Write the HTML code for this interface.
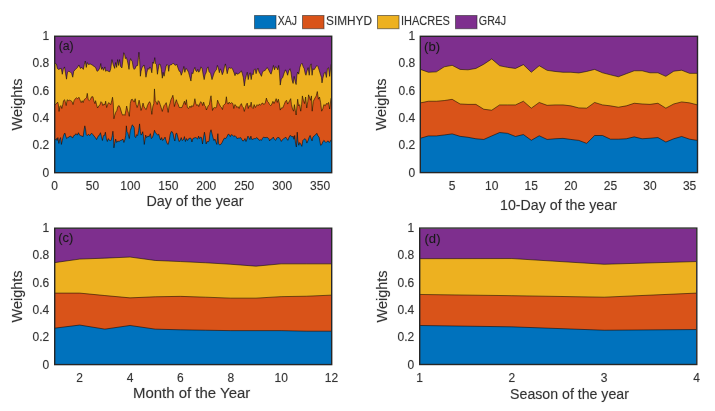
<!DOCTYPE html>
<html><head><meta charset="utf-8"><style>
html,body{margin:0;padding:0;background:#fff;width:715px;height:411px;overflow:hidden}
svg{display:block;will-change:transform}
text{stroke:#333;stroke-width:0.7px;stroke-opacity:0.2}
</style></head><body>
<svg width="715" height="411" viewBox="0 0 715 411" font-family='"Liberation Sans", sans-serif' fill="#333">
<rect width="715" height="411" fill="#fff"/>
<rect x="254.5" y="15.5" width="21.5" height="13.2" fill="#0072BD" stroke="#222" stroke-opacity="0.55" stroke-width="1"/>
<text x="277.8" y="25.1" font-size="12" textLength="19.2" lengthAdjust="spacingAndGlyphs">XAJ</text>
<rect x="302.5" y="15.5" width="21.5" height="13.2" fill="#D95319" stroke="#222" stroke-opacity="0.55" stroke-width="1"/>
<text x="326" y="25.1" font-size="12" textLength="46" lengthAdjust="spacingAndGlyphs">SIMHYD</text>
<rect x="377.5" y="15.5" width="21.5" height="13.2" fill="#EDB120" stroke="#222" stroke-opacity="0.55" stroke-width="1"/>
<text x="401" y="25.1" font-size="12" textLength="48.8" lengthAdjust="spacingAndGlyphs">IHACRES</text>
<rect x="455.5" y="15.5" width="21.5" height="13.2" fill="#7E2F8E" stroke="#222" stroke-opacity="0.55" stroke-width="1"/>
<text x="478.8" y="25.1" font-size="12" textLength="27.4" lengthAdjust="spacingAndGlyphs">GR4J</text>
<clipPath id="clipa"><rect x="54.5" y="36.5" width="277.0" height="136.0"/></clipPath>
<g clip-path="url(#clipa)">
<rect x="54.5" y="36.5" width="277.0" height="136.0" fill="#7E2F8E"/>
<polygon points="54.50,172.50 54.50,63.51 55.43,63.51 56.41,64.00 57.39,68.40 58.37,69.38 59.84,68.89 61.30,68.40 62.28,74.28 63.26,69.38 64.54,66.93 65.52,73.30 66.50,79.18 67.48,72.32 68.65,71.34 70.12,71.83 71.59,73.30 72.76,77.22 73.74,71.34 75.51,69.38 77.47,67.42 78.93,64.98 80.40,68.40 81.87,67.42 83.34,69.38 84.32,64.49 85.30,61.06 86.28,67.42 87.26,62.53 88.43,64.49 90.20,64.00 92.16,64.98 94.12,66.44 95.58,67.42 97.05,71.34 98.52,70.36 99.99,67.42 100.78,63.51 101.46,69.38 102.44,67.42 103.42,70.36 104.89,66.93 105.67,71.34 106.85,70.36 108.32,71.34 109.79,71.83 110.77,68.40 111.94,59.59 113.21,64.49 114.68,68.40 115.66,62.53 116.64,67.42 117.62,59.59 118.60,65.47 119.58,59.59 120.56,66.44 121.96,67.91 122.94,59.59 123.72,52.73 124.70,54.69 125.39,58.61 126.37,57.63 127.35,60.57 128.33,65.47 129.01,69.38 129.79,61.55 130.58,58.61 131.56,60.57 132.24,61.55 133.22,67.42 134.20,69.38 135.18,68.40 136.16,65.95 137.63,65.47 138.41,57.63 138.90,52.24 139.59,59.59 140.37,76.24 141.06,71.34 142.04,67.42 143.02,66.44 144.00,64.98 144.98,69.38 145.95,77.22 146.93,72.32 147.91,68.40 148.89,69.38 149.87,66.93 150.85,68.40 151.83,72.81 152.81,62.04 153.79,63.51 154.77,57.63 155.46,63.51 156.43,64.49 157.41,74.28 158.20,69.38 159.18,64.00 160.35,64.49 161.33,69.38 162.31,78.20 163.10,72.32 164.07,76.24 165.05,71.34 166.03,66.44 167.01,64.49 167.99,65.47 168.68,71.34 169.46,65.47 170.44,64.98 171.91,64.49 173.38,63.02 174.36,64.49 175.34,65.47 176.61,64.00 177.79,67.42 179.26,71.34 180.24,71.34 181.21,75.26 182.68,71.34 183.86,66.44 184.84,72.32 185.82,68.40 187.09,69.38 188.56,72.32 189.47,75.67 190.94,81.06 191.92,72.73 192.90,73.71 193.88,69.79 194.86,67.35 195.84,70.77 196.81,71.75 197.79,69.30 198.77,72.24 199.75,70.77 200.93,66.86 202.20,68.81 203.18,74.69 204.16,79.59 205.14,74.69 206.12,72.73 207.10,68.33 208.08,66.86 209.06,71.75 210.53,73.22 212.00,79.59 213.27,75.67 214.25,72.73 215.42,70.77 216.40,69.79 217.38,65.39 218.36,67.84 219.34,72.73 220.32,68.81 221.30,70.77 222.28,74.69 223.46,71.75 224.43,66.86 225.41,63.92 226.39,68.81 227.18,73.71 228.16,69.79 229.14,67.35 230.31,68.33 231.58,67.84 232.86,69.79 234.03,72.73 235.01,75.67 235.99,72.73 236.97,74.20 238.44,73.71 239.91,72.73 241.38,70.77 242.36,73.71 243.34,77.63 244.32,85.95 245.30,79.59 246.28,75.67 247.26,72.24 248.24,79.59 249.21,74.69 250.19,72.73 251.17,79.59 252.15,73.71 253.13,74.69 254.11,69.79 255.09,68.81 256.07,73.71 257.09,69.82 257.96,68.18 259.05,72.00 260.36,74.18 261.45,76.36 262.55,72.00 263.64,70.91 265.27,70.36 266.91,67.64 268.22,68.73 269.64,72.00 271.05,74.18 272.36,69.82 273.45,65.45 274.54,69.82 275.64,66.55 276.73,67.64 277.82,69.82 278.69,65.45 279.45,73.09 280.22,85.09 281.31,79.09 282.73,77.45 284.14,73.09 285.45,69.82 286.54,72.00 287.64,75.27 288.73,70.91 290.04,68.73 290.91,72.00 292.00,79.64 293.09,83.45 294.18,76.36 295.27,81.82 296.14,84.54 296.91,75.27 297.67,72.00 298.76,74.18 299.85,67.64 300.94,64.36 302.03,63.27 303.13,66.55 304.22,68.73 305.09,73.09 305.96,75.27 307.05,70.91 308.14,67.64 309.23,75.27 310.33,65.45 311.20,63.82 312.07,75.27 312.94,68.73 314.03,69.82 315.45,67.64 316.87,65.45 317.96,66.55 319.05,69.82 320.36,74.18 321.45,77.45 322.00,82.91 322.76,78.54 324.18,73.09 325.27,72.00 326.36,77.45 327.45,68.73 328.54,67.64 329.63,76.36 331.05,64.36 331.50,64.36 331.50,172.50" fill="#EDB120"/>
<polygon points="54.50,172.50 54.50,104.59 55.43,104.59 56.41,103.61 57.68,102.14 58.37,104.59 59.05,111.44 59.84,106.55 60.81,105.57 61.79,108.51 62.77,104.59 63.56,100.67 64.54,99.69 65.22,101.65 66.20,105.57 67.18,99.69 68.16,100.67 69.43,100.18 70.81,100.67 72.08,101.65 73.06,104.59 74.04,100.67 75.31,98.71 76.49,97.73 77.66,98.71 78.93,97.24 79.91,99.69 81.19,102.63 82.17,100.67 83.15,102.63 84.13,99.69 85.30,98.71 86.48,97.73 87.26,93.33 88.24,99.69 89.22,100.67 90.20,99.69 91.67,96.75 92.94,96.75 93.92,101.16 94.90,103.61 95.58,100.67 96.56,104.59 97.54,108.02 98.82,106.06 99.99,104.59 100.97,101.65 101.95,102.63 102.93,105.57 103.91,104.10 104.89,104.59 105.67,101.16 106.65,107.53 107.63,104.59 108.61,102.63 109.79,103.61 110.77,104.59 111.75,100.67 112.53,97.24 113.21,102.63 113.90,118.79 114.68,115.36 115.66,112.42 116.84,110.47 117.82,106.55 119.09,105.57 120.07,107.53 121.96,113.89 122.94,115.36 123.92,114.38 124.90,115.36 125.88,110.47 126.66,106.06 127.64,110.47 128.62,113.40 129.30,116.34 130.28,103.61 131.26,99.69 132.24,99.20 133.22,100.67 134.20,102.14 135.18,98.71 136.16,104.59 137.14,107.53 138.12,104.59 139.10,100.18 140.08,104.59 141.06,110.47 142.04,107.53 143.02,103.12 144.00,106.55 144.98,108.51 146.25,109.49 147.42,105.57 148.60,103.12 149.58,101.65 150.56,103.61 151.34,110.47 151.83,114.38 152.81,106.55 153.79,103.61 154.48,88.92 155.26,100.67 156.24,102.14 157.22,104.59 158.20,100.67 159.18,101.65 160.16,104.59 161.14,107.53 162.31,111.44 163.10,108.51 164.07,105.57 165.05,104.59 166.23,102.63 167.21,107.53 168.19,112.42 168.97,106.55 169.95,103.61 170.93,99.69 171.91,97.73 172.89,95.28 173.67,99.69 174.36,106.55 175.34,103.12 176.32,99.69 177.30,102.63 178.28,104.59 179.26,107.53 180.53,107.53 181.90,107.53 183.17,104.59 184.45,101.16 185.43,104.59 186.41,99.69 187.38,107.53 188.56,108.51 189.96,106.06 190.94,107.53 191.92,105.57 192.90,106.55 193.88,104.10 194.86,98.71 195.84,103.61 196.81,105.57 197.79,104.59 198.77,106.55 199.75,103.61 200.73,101.65 201.71,102.63 202.69,105.57 203.67,102.14 204.65,105.57 205.63,106.55 206.41,109.98 207.39,107.53 208.37,105.57 209.35,104.59 210.33,98.71 211.02,95.77 211.70,102.63 212.49,110.47 213.47,108.02 214.44,107.53 215.62,108.02 216.60,106.55 217.58,100.18 218.56,102.63 219.54,104.59 220.52,106.55 221.50,107.53 222.48,109.49 223.26,105.57 224.24,104.59 225.41,103.61 226.39,96.75 227.18,102.63 228.16,104.10 229.14,102.14 230.31,103.61 231.58,102.63 232.86,103.61 233.84,108.51 234.82,104.59 235.99,105.57 236.97,107.53 237.95,106.55 239.13,108.51 240.11,105.57 241.38,103.61 242.36,106.55 243.34,107.53 244.32,111.44 245.30,107.53 246.28,104.59 247.26,103.12 248.24,108.51 249.21,105.57 250.19,106.55 251.17,102.14 252.15,107.53 253.13,108.51 254.11,104.59 255.38,107.53 256.56,105.57 257.09,104.64 258.18,105.73 259.27,104.09 260.58,105.18 261.67,103.54 262.76,103.00 263.85,104.64 265.27,103.00 266.36,98.09 267.45,101.36 268.54,102.45 269.64,104.64 270.73,105.73 271.82,104.09 272.91,101.36 274.00,103.54 275.09,101.36 276.18,98.64 277.27,102.45 278.36,99.18 279.45,104.09 280.22,110.09 281.31,107.91 282.73,107.91 284.14,104.64 285.45,101.36 286.54,100.27 287.64,104.09 288.73,102.45 289.82,100.27 290.69,98.64 291.45,104.64 292.54,109.00 293.63,111.18 294.40,104.64 295.27,110.09 296.14,115.00 296.91,106.82 297.67,99.18 298.54,105.73 299.63,104.64 300.73,111.18 301.60,104.64 302.36,95.91 303.45,100.27 304.54,103.54 305.63,97.00 306.73,107.91 307.82,101.36 308.58,94.82 309.45,97.00 310.54,100.27 311.42,95.91 312.18,111.18 313.27,101.36 314.91,98.09 316.22,95.91 317.31,91.55 318.40,99.18 319.49,97.00 320.58,102.45 321.67,111.18 322.76,109.00 323.85,104.64 325.27,105.73 326.36,103.54 327.45,104.09 328.54,102.45 329.63,109.00 331.05,98.09 331.50,98.09 331.50,172.50" fill="#D95319"/>
<polygon points="54.50,172.50 54.50,139.55 55.43,139.55 56.41,138.57 57.09,140.53 57.88,137.59 58.86,143.47 59.64,139.55 60.62,137.59 61.40,144.44 62.28,140.53 63.26,136.61 64.24,133.67 65.03,133.18 65.71,136.12 66.69,138.57 67.67,137.59 68.85,137.10 70.12,136.12 71.39,136.61 72.57,138.08 73.74,135.63 75.02,135.14 76.00,133.67 77.27,135.14 78.44,132.69 79.62,135.14 80.60,135.63 81.87,136.12 83.15,136.61 84.13,129.75 84.81,125.84 85.50,128.77 86.28,134.65 87.26,135.63 88.43,134.16 89.71,135.63 90.69,134.16 91.67,133.18 92.94,134.65 94.12,136.12 95.29,137.59 96.56,139.55 97.54,137.59 98.52,135.63 99.50,135.14 100.48,132.69 101.46,136.61 102.44,140.53 103.42,135.63 104.40,135.63 105.38,132.20 106.36,138.57 107.34,141.51 108.32,138.57 109.30,140.04 110.28,141.02 111.26,140.04 112.24,135.63 112.92,131.22 113.51,137.59 113.90,147.87 114.68,143.47 115.66,139.06 116.64,142.49 117.82,141.02 119.09,141.51 120.36,140.53 121.96,140.04 122.94,139.06 123.92,142.49 124.90,139.55 125.68,135.63 126.37,125.84 127.05,131.71 127.84,132.69 128.62,136.12 129.30,138.57 130.28,130.73 131.26,127.79 132.24,124.86 133.22,125.84 134.20,127.79 134.89,136.61 135.67,137.59 136.65,134.65 137.63,135.63 138.61,130.73 139.59,123.88 140.37,131.71 141.06,135.14 142.04,133.67 142.72,131.71 143.51,136.61 144.29,144.44 144.98,139.55 145.66,135.14 146.64,137.59 147.91,136.12 149.19,136.61 150.36,133.67 151.34,138.57 152.32,137.59 153.30,135.14 154.48,130.24 155.46,132.69 156.43,133.67 157.71,135.14 158.69,134.16 159.67,137.59 160.65,140.04 161.63,137.59 162.61,140.53 163.88,139.06 165.05,137.10 166.03,140.53 167.01,143.47 168.19,144.44 169.17,140.53 170.15,134.65 171.13,131.71 172.11,131.71 173.09,133.67 174.06,138.57 174.85,141.02 175.83,133.67 176.81,133.18 177.98,137.59 178.96,141.51 179.94,141.02 181.21,137.59 182.19,140.53 183.47,139.55 184.45,136.61 185.43,141.51 186.41,138.57 187.58,140.53 188.76,138.57 190.15,138.08 191.13,138.57 191.92,142.00 192.90,138.57 194.07,138.08 195.35,137.59 196.62,138.08 197.60,139.06 198.58,136.12 199.56,138.57 200.54,137.10 201.52,137.59 202.50,143.95 203.48,137.59 204.45,132.20 205.14,135.63 206.12,143.95 207.10,141.51 208.08,142.00 209.06,141.02 210.04,132.69 211.02,129.75 212.00,133.67 212.98,137.59 213.95,140.53 214.93,139.06 215.91,142.00 216.89,144.44 217.87,133.67 218.56,143.47 219.54,144.93 220.81,144.44 222.08,142.49 223.26,140.04 224.43,138.08 225.71,138.57 226.98,136.61 228.16,134.16 229.33,134.65 230.31,136.61 231.29,134.65 232.56,135.14 233.84,136.61 235.01,135.63 235.99,136.61 236.97,138.57 238.15,138.08 239.42,138.08 240.69,137.59 241.87,139.55 242.85,141.02 244.02,140.53 245.00,138.57 245.98,141.51 246.96,139.06 247.94,136.12 248.92,137.59 249.90,139.55 250.88,136.12 251.86,139.55 253.13,139.06 254.41,138.57 255.58,138.57 256.76,137.59 257.09,138.18 258.18,138.73 259.27,140.36 260.36,139.82 261.45,140.36 262.55,138.18 263.64,137.09 264.95,137.64 266.36,137.42 267.78,137.64 268.87,138.73 269.64,140.91 270.73,139.27 272.14,138.73 273.24,137.09 274.33,139.27 275.64,140.36 276.73,138.18 277.82,137.42 279.13,137.64 280.22,139.27 281.31,141.45 282.40,139.82 283.49,138.73 284.58,138.18 285.67,137.09 286.76,138.73 287.85,140.36 288.94,137.64 290.04,135.45 291.13,136.00 292.22,137.09 293.09,136.00 293.96,139.27 294.73,135.45 295.49,143.09 296.36,146.91 297.23,132.18 297.89,140.91 298.76,145.27 299.63,142.54 300.73,144.18 301.82,146.36 302.91,140.36 304.00,139.27 305.09,138.73 305.96,139.82 306.83,143.09 307.93,140.91 309.02,137.64 310.11,135.45 310.98,138.18 312.07,140.91 312.94,137.09 314.03,136.00 315.45,134.91 316.87,133.27 317.96,136.00 319.05,137.09 319.82,140.91 320.58,145.27 321.67,144.73 322.76,142.00 323.85,140.36 324.94,141.45 326.03,142.54 327.12,141.45 328.22,140.91 329.31,142.54 330.18,141.45 331.05,139.82 331.50,139.82 331.50,172.50" fill="#0072BD"/>
<polyline points="54.50,63.51 55.43,63.51 56.41,64.00 57.39,68.40 58.37,69.38 59.84,68.89 61.30,68.40 62.28,74.28 63.26,69.38 64.54,66.93 65.52,73.30 66.50,79.18 67.48,72.32 68.65,71.34 70.12,71.83 71.59,73.30 72.76,77.22 73.74,71.34 75.51,69.38 77.47,67.42 78.93,64.98 80.40,68.40 81.87,67.42 83.34,69.38 84.32,64.49 85.30,61.06 86.28,67.42 87.26,62.53 88.43,64.49 90.20,64.00 92.16,64.98 94.12,66.44 95.58,67.42 97.05,71.34 98.52,70.36 99.99,67.42 100.78,63.51 101.46,69.38 102.44,67.42 103.42,70.36 104.89,66.93 105.67,71.34 106.85,70.36 108.32,71.34 109.79,71.83 110.77,68.40 111.94,59.59 113.21,64.49 114.68,68.40 115.66,62.53 116.64,67.42 117.62,59.59 118.60,65.47 119.58,59.59 120.56,66.44 121.96,67.91 122.94,59.59 123.72,52.73 124.70,54.69 125.39,58.61 126.37,57.63 127.35,60.57 128.33,65.47 129.01,69.38 129.79,61.55 130.58,58.61 131.56,60.57 132.24,61.55 133.22,67.42 134.20,69.38 135.18,68.40 136.16,65.95 137.63,65.47 138.41,57.63 138.90,52.24 139.59,59.59 140.37,76.24 141.06,71.34 142.04,67.42 143.02,66.44 144.00,64.98 144.98,69.38 145.95,77.22 146.93,72.32 147.91,68.40 148.89,69.38 149.87,66.93 150.85,68.40 151.83,72.81 152.81,62.04 153.79,63.51 154.77,57.63 155.46,63.51 156.43,64.49 157.41,74.28 158.20,69.38 159.18,64.00 160.35,64.49 161.33,69.38 162.31,78.20 163.10,72.32 164.07,76.24 165.05,71.34 166.03,66.44 167.01,64.49 167.99,65.47 168.68,71.34 169.46,65.47 170.44,64.98 171.91,64.49 173.38,63.02 174.36,64.49 175.34,65.47 176.61,64.00 177.79,67.42 179.26,71.34 180.24,71.34 181.21,75.26 182.68,71.34 183.86,66.44 184.84,72.32 185.82,68.40 187.09,69.38 188.56,72.32 189.47,75.67 190.94,81.06 191.92,72.73 192.90,73.71 193.88,69.79 194.86,67.35 195.84,70.77 196.81,71.75 197.79,69.30 198.77,72.24 199.75,70.77 200.93,66.86 202.20,68.81 203.18,74.69 204.16,79.59 205.14,74.69 206.12,72.73 207.10,68.33 208.08,66.86 209.06,71.75 210.53,73.22 212.00,79.59 213.27,75.67 214.25,72.73 215.42,70.77 216.40,69.79 217.38,65.39 218.36,67.84 219.34,72.73 220.32,68.81 221.30,70.77 222.28,74.69 223.46,71.75 224.43,66.86 225.41,63.92 226.39,68.81 227.18,73.71 228.16,69.79 229.14,67.35 230.31,68.33 231.58,67.84 232.86,69.79 234.03,72.73 235.01,75.67 235.99,72.73 236.97,74.20 238.44,73.71 239.91,72.73 241.38,70.77 242.36,73.71 243.34,77.63 244.32,85.95 245.30,79.59 246.28,75.67 247.26,72.24 248.24,79.59 249.21,74.69 250.19,72.73 251.17,79.59 252.15,73.71 253.13,74.69 254.11,69.79 255.09,68.81 256.07,73.71 257.09,69.82 257.96,68.18 259.05,72.00 260.36,74.18 261.45,76.36 262.55,72.00 263.64,70.91 265.27,70.36 266.91,67.64 268.22,68.73 269.64,72.00 271.05,74.18 272.36,69.82 273.45,65.45 274.54,69.82 275.64,66.55 276.73,67.64 277.82,69.82 278.69,65.45 279.45,73.09 280.22,85.09 281.31,79.09 282.73,77.45 284.14,73.09 285.45,69.82 286.54,72.00 287.64,75.27 288.73,70.91 290.04,68.73 290.91,72.00 292.00,79.64 293.09,83.45 294.18,76.36 295.27,81.82 296.14,84.54 296.91,75.27 297.67,72.00 298.76,74.18 299.85,67.64 300.94,64.36 302.03,63.27 303.13,66.55 304.22,68.73 305.09,73.09 305.96,75.27 307.05,70.91 308.14,67.64 309.23,75.27 310.33,65.45 311.20,63.82 312.07,75.27 312.94,68.73 314.03,69.82 315.45,67.64 316.87,65.45 317.96,66.55 319.05,69.82 320.36,74.18 321.45,77.45 322.00,82.91 322.76,78.54 324.18,73.09 325.27,72.00 326.36,77.45 327.45,68.73 328.54,67.64 329.63,76.36 331.05,64.36 331.50,64.36" fill="none" stroke="#000" stroke-opacity="0.75" stroke-width="0.7" stroke-linejoin="round"/>
<polyline points="54.50,104.59 55.43,104.59 56.41,103.61 57.68,102.14 58.37,104.59 59.05,111.44 59.84,106.55 60.81,105.57 61.79,108.51 62.77,104.59 63.56,100.67 64.54,99.69 65.22,101.65 66.20,105.57 67.18,99.69 68.16,100.67 69.43,100.18 70.81,100.67 72.08,101.65 73.06,104.59 74.04,100.67 75.31,98.71 76.49,97.73 77.66,98.71 78.93,97.24 79.91,99.69 81.19,102.63 82.17,100.67 83.15,102.63 84.13,99.69 85.30,98.71 86.48,97.73 87.26,93.33 88.24,99.69 89.22,100.67 90.20,99.69 91.67,96.75 92.94,96.75 93.92,101.16 94.90,103.61 95.58,100.67 96.56,104.59 97.54,108.02 98.82,106.06 99.99,104.59 100.97,101.65 101.95,102.63 102.93,105.57 103.91,104.10 104.89,104.59 105.67,101.16 106.65,107.53 107.63,104.59 108.61,102.63 109.79,103.61 110.77,104.59 111.75,100.67 112.53,97.24 113.21,102.63 113.90,118.79 114.68,115.36 115.66,112.42 116.84,110.47 117.82,106.55 119.09,105.57 120.07,107.53 121.96,113.89 122.94,115.36 123.92,114.38 124.90,115.36 125.88,110.47 126.66,106.06 127.64,110.47 128.62,113.40 129.30,116.34 130.28,103.61 131.26,99.69 132.24,99.20 133.22,100.67 134.20,102.14 135.18,98.71 136.16,104.59 137.14,107.53 138.12,104.59 139.10,100.18 140.08,104.59 141.06,110.47 142.04,107.53 143.02,103.12 144.00,106.55 144.98,108.51 146.25,109.49 147.42,105.57 148.60,103.12 149.58,101.65 150.56,103.61 151.34,110.47 151.83,114.38 152.81,106.55 153.79,103.61 154.48,88.92 155.26,100.67 156.24,102.14 157.22,104.59 158.20,100.67 159.18,101.65 160.16,104.59 161.14,107.53 162.31,111.44 163.10,108.51 164.07,105.57 165.05,104.59 166.23,102.63 167.21,107.53 168.19,112.42 168.97,106.55 169.95,103.61 170.93,99.69 171.91,97.73 172.89,95.28 173.67,99.69 174.36,106.55 175.34,103.12 176.32,99.69 177.30,102.63 178.28,104.59 179.26,107.53 180.53,107.53 181.90,107.53 183.17,104.59 184.45,101.16 185.43,104.59 186.41,99.69 187.38,107.53 188.56,108.51 189.96,106.06 190.94,107.53 191.92,105.57 192.90,106.55 193.88,104.10 194.86,98.71 195.84,103.61 196.81,105.57 197.79,104.59 198.77,106.55 199.75,103.61 200.73,101.65 201.71,102.63 202.69,105.57 203.67,102.14 204.65,105.57 205.63,106.55 206.41,109.98 207.39,107.53 208.37,105.57 209.35,104.59 210.33,98.71 211.02,95.77 211.70,102.63 212.49,110.47 213.47,108.02 214.44,107.53 215.62,108.02 216.60,106.55 217.58,100.18 218.56,102.63 219.54,104.59 220.52,106.55 221.50,107.53 222.48,109.49 223.26,105.57 224.24,104.59 225.41,103.61 226.39,96.75 227.18,102.63 228.16,104.10 229.14,102.14 230.31,103.61 231.58,102.63 232.86,103.61 233.84,108.51 234.82,104.59 235.99,105.57 236.97,107.53 237.95,106.55 239.13,108.51 240.11,105.57 241.38,103.61 242.36,106.55 243.34,107.53 244.32,111.44 245.30,107.53 246.28,104.59 247.26,103.12 248.24,108.51 249.21,105.57 250.19,106.55 251.17,102.14 252.15,107.53 253.13,108.51 254.11,104.59 255.38,107.53 256.56,105.57 257.09,104.64 258.18,105.73 259.27,104.09 260.58,105.18 261.67,103.54 262.76,103.00 263.85,104.64 265.27,103.00 266.36,98.09 267.45,101.36 268.54,102.45 269.64,104.64 270.73,105.73 271.82,104.09 272.91,101.36 274.00,103.54 275.09,101.36 276.18,98.64 277.27,102.45 278.36,99.18 279.45,104.09 280.22,110.09 281.31,107.91 282.73,107.91 284.14,104.64 285.45,101.36 286.54,100.27 287.64,104.09 288.73,102.45 289.82,100.27 290.69,98.64 291.45,104.64 292.54,109.00 293.63,111.18 294.40,104.64 295.27,110.09 296.14,115.00 296.91,106.82 297.67,99.18 298.54,105.73 299.63,104.64 300.73,111.18 301.60,104.64 302.36,95.91 303.45,100.27 304.54,103.54 305.63,97.00 306.73,107.91 307.82,101.36 308.58,94.82 309.45,97.00 310.54,100.27 311.42,95.91 312.18,111.18 313.27,101.36 314.91,98.09 316.22,95.91 317.31,91.55 318.40,99.18 319.49,97.00 320.58,102.45 321.67,111.18 322.76,109.00 323.85,104.64 325.27,105.73 326.36,103.54 327.45,104.09 328.54,102.45 329.63,109.00 331.05,98.09 331.50,98.09" fill="none" stroke="#000" stroke-opacity="0.75" stroke-width="0.7" stroke-linejoin="round"/>
<polyline points="54.50,139.55 55.43,139.55 56.41,138.57 57.09,140.53 57.88,137.59 58.86,143.47 59.64,139.55 60.62,137.59 61.40,144.44 62.28,140.53 63.26,136.61 64.24,133.67 65.03,133.18 65.71,136.12 66.69,138.57 67.67,137.59 68.85,137.10 70.12,136.12 71.39,136.61 72.57,138.08 73.74,135.63 75.02,135.14 76.00,133.67 77.27,135.14 78.44,132.69 79.62,135.14 80.60,135.63 81.87,136.12 83.15,136.61 84.13,129.75 84.81,125.84 85.50,128.77 86.28,134.65 87.26,135.63 88.43,134.16 89.71,135.63 90.69,134.16 91.67,133.18 92.94,134.65 94.12,136.12 95.29,137.59 96.56,139.55 97.54,137.59 98.52,135.63 99.50,135.14 100.48,132.69 101.46,136.61 102.44,140.53 103.42,135.63 104.40,135.63 105.38,132.20 106.36,138.57 107.34,141.51 108.32,138.57 109.30,140.04 110.28,141.02 111.26,140.04 112.24,135.63 112.92,131.22 113.51,137.59 113.90,147.87 114.68,143.47 115.66,139.06 116.64,142.49 117.82,141.02 119.09,141.51 120.36,140.53 121.96,140.04 122.94,139.06 123.92,142.49 124.90,139.55 125.68,135.63 126.37,125.84 127.05,131.71 127.84,132.69 128.62,136.12 129.30,138.57 130.28,130.73 131.26,127.79 132.24,124.86 133.22,125.84 134.20,127.79 134.89,136.61 135.67,137.59 136.65,134.65 137.63,135.63 138.61,130.73 139.59,123.88 140.37,131.71 141.06,135.14 142.04,133.67 142.72,131.71 143.51,136.61 144.29,144.44 144.98,139.55 145.66,135.14 146.64,137.59 147.91,136.12 149.19,136.61 150.36,133.67 151.34,138.57 152.32,137.59 153.30,135.14 154.48,130.24 155.46,132.69 156.43,133.67 157.71,135.14 158.69,134.16 159.67,137.59 160.65,140.04 161.63,137.59 162.61,140.53 163.88,139.06 165.05,137.10 166.03,140.53 167.01,143.47 168.19,144.44 169.17,140.53 170.15,134.65 171.13,131.71 172.11,131.71 173.09,133.67 174.06,138.57 174.85,141.02 175.83,133.67 176.81,133.18 177.98,137.59 178.96,141.51 179.94,141.02 181.21,137.59 182.19,140.53 183.47,139.55 184.45,136.61 185.43,141.51 186.41,138.57 187.58,140.53 188.76,138.57 190.15,138.08 191.13,138.57 191.92,142.00 192.90,138.57 194.07,138.08 195.35,137.59 196.62,138.08 197.60,139.06 198.58,136.12 199.56,138.57 200.54,137.10 201.52,137.59 202.50,143.95 203.48,137.59 204.45,132.20 205.14,135.63 206.12,143.95 207.10,141.51 208.08,142.00 209.06,141.02 210.04,132.69 211.02,129.75 212.00,133.67 212.98,137.59 213.95,140.53 214.93,139.06 215.91,142.00 216.89,144.44 217.87,133.67 218.56,143.47 219.54,144.93 220.81,144.44 222.08,142.49 223.26,140.04 224.43,138.08 225.71,138.57 226.98,136.61 228.16,134.16 229.33,134.65 230.31,136.61 231.29,134.65 232.56,135.14 233.84,136.61 235.01,135.63 235.99,136.61 236.97,138.57 238.15,138.08 239.42,138.08 240.69,137.59 241.87,139.55 242.85,141.02 244.02,140.53 245.00,138.57 245.98,141.51 246.96,139.06 247.94,136.12 248.92,137.59 249.90,139.55 250.88,136.12 251.86,139.55 253.13,139.06 254.41,138.57 255.58,138.57 256.76,137.59 257.09,138.18 258.18,138.73 259.27,140.36 260.36,139.82 261.45,140.36 262.55,138.18 263.64,137.09 264.95,137.64 266.36,137.42 267.78,137.64 268.87,138.73 269.64,140.91 270.73,139.27 272.14,138.73 273.24,137.09 274.33,139.27 275.64,140.36 276.73,138.18 277.82,137.42 279.13,137.64 280.22,139.27 281.31,141.45 282.40,139.82 283.49,138.73 284.58,138.18 285.67,137.09 286.76,138.73 287.85,140.36 288.94,137.64 290.04,135.45 291.13,136.00 292.22,137.09 293.09,136.00 293.96,139.27 294.73,135.45 295.49,143.09 296.36,146.91 297.23,132.18 297.89,140.91 298.76,145.27 299.63,142.54 300.73,144.18 301.82,146.36 302.91,140.36 304.00,139.27 305.09,138.73 305.96,139.82 306.83,143.09 307.93,140.91 309.02,137.64 310.11,135.45 310.98,138.18 312.07,140.91 312.94,137.09 314.03,136.00 315.45,134.91 316.87,133.27 317.96,136.00 319.05,137.09 319.82,140.91 320.58,145.27 321.67,144.73 322.76,142.00 323.85,140.36 324.94,141.45 326.03,142.54 327.12,141.45 328.22,140.91 329.31,142.54 330.18,141.45 331.05,139.82 331.50,139.82" fill="none" stroke="#000" stroke-opacity="0.75" stroke-width="0.7" stroke-linejoin="round"/>
</g>
<rect x="54.7" y="36.25" width="277.00" height="136.45" fill="none" stroke="#262626" stroke-width="1.4"/>
<text x="58.70" y="50.10" font-size="12.5" fill="#151515" textLength="15" lengthAdjust="spacingAndGlyphs">(a)</text>
<clipPath id="clipb"><rect x="420.5" y="36.5" width="277.0" height="136.0"/></clipPath>
<g clip-path="url(#clipb)">
<rect x="420.5" y="36.5" width="277.0" height="136.0" fill="#7E2F8E"/>
<polygon points="420.50,172.50 420.50,69.41 428.41,72.27 436.33,71.86 444.24,66.83 452.16,65.33 460.07,69.41 467.99,69.82 475.90,68.46 483.81,64.24 491.73,58.94 499.64,65.74 507.56,67.37 515.47,68.46 523.39,64.65 531.30,72.27 539.21,65.74 547.13,70.36 555.04,71.45 562.96,72.27 570.87,72.27 578.79,72.95 586.70,71.45 594.61,69.41 602.53,72.81 610.44,74.85 618.36,76.76 626.27,73.76 634.19,70.77 642.10,70.77 650.01,72.81 657.93,72.81 665.84,76.35 673.76,71.18 681.67,70.23 689.59,73.36 697.50,73.36 697.50,172.50" fill="#EDB120"/>
<polygon points="420.50,172.50 420.50,102.87 428.41,101.24 436.33,101.24 444.24,100.56 452.16,99.33 460.07,103.96 467.99,104.36 475.90,104.36 483.81,109.26 491.73,110.21 499.64,104.91 507.56,104.91 515.47,104.91 523.39,101.24 531.30,108.17 539.21,102.46 547.13,105.32 555.04,104.91 562.96,104.91 570.87,105.86 578.79,107.90 586.70,108.17 594.61,102.46 602.53,104.91 610.44,105.86 618.36,107.22 626.27,105.86 634.19,103.28 642.10,103.96 650.01,104.36 657.93,103.28 665.84,108.17 673.76,103.96 681.67,101.92 689.59,102.87 697.50,104.91 697.50,172.50" fill="#D95319"/>
<polygon points="420.50,172.50 420.50,138.23 428.41,135.92 436.33,135.92 444.24,134.96 452.16,133.88 460.07,136.32 467.99,137.28 475.90,138.77 483.81,139.45 491.73,135.92 499.64,132.52 507.56,133.33 515.47,136.46 523.39,134.56 531.30,140.27 539.21,135.78 547.13,139.45 555.04,138.77 562.96,138.36 570.87,139.45 578.79,140.40 586.70,143.40 594.61,135.51 602.53,135.51 610.44,139.18 618.36,139.18 626.27,138.77 634.19,136.87 642.10,138.77 650.01,138.23 657.93,137.55 665.84,142.04 673.76,138.77 681.67,136.46 689.59,139.18 697.50,140.40 697.50,172.50" fill="#0072BD"/>
<polyline points="420.50,69.41 428.41,72.27 436.33,71.86 444.24,66.83 452.16,65.33 460.07,69.41 467.99,69.82 475.90,68.46 483.81,64.24 491.73,58.94 499.64,65.74 507.56,67.37 515.47,68.46 523.39,64.65 531.30,72.27 539.21,65.74 547.13,70.36 555.04,71.45 562.96,72.27 570.87,72.27 578.79,72.95 586.70,71.45 594.61,69.41 602.53,72.81 610.44,74.85 618.36,76.76 626.27,73.76 634.19,70.77 642.10,70.77 650.01,72.81 657.93,72.81 665.84,76.35 673.76,71.18 681.67,70.23 689.59,73.36 697.50,73.36" fill="none" stroke="#000" stroke-opacity="0.75" stroke-width="0.7" stroke-linejoin="round"/>
<polyline points="420.50,102.87 428.41,101.24 436.33,101.24 444.24,100.56 452.16,99.33 460.07,103.96 467.99,104.36 475.90,104.36 483.81,109.26 491.73,110.21 499.64,104.91 507.56,104.91 515.47,104.91 523.39,101.24 531.30,108.17 539.21,102.46 547.13,105.32 555.04,104.91 562.96,104.91 570.87,105.86 578.79,107.90 586.70,108.17 594.61,102.46 602.53,104.91 610.44,105.86 618.36,107.22 626.27,105.86 634.19,103.28 642.10,103.96 650.01,104.36 657.93,103.28 665.84,108.17 673.76,103.96 681.67,101.92 689.59,102.87 697.50,104.91" fill="none" stroke="#000" stroke-opacity="0.75" stroke-width="0.7" stroke-linejoin="round"/>
<polyline points="420.50,138.23 428.41,135.92 436.33,135.92 444.24,134.96 452.16,133.88 460.07,136.32 467.99,137.28 475.90,138.77 483.81,139.45 491.73,135.92 499.64,132.52 507.56,133.33 515.47,136.46 523.39,134.56 531.30,140.27 539.21,135.78 547.13,139.45 555.04,138.77 562.96,138.36 570.87,139.45 578.79,140.40 586.70,143.40 594.61,135.51 602.53,135.51 610.44,139.18 618.36,139.18 626.27,138.77 634.19,136.87 642.10,138.77 650.01,138.23 657.93,137.55 665.84,142.04 673.76,138.77 681.67,136.46 689.59,139.18 697.50,140.40" fill="none" stroke="#000" stroke-opacity="0.75" stroke-width="0.7" stroke-linejoin="round"/>
</g>
<rect x="420.3" y="36.3" width="277.20" height="136.30" fill="none" stroke="#262626" stroke-width="1.4"/>
<text x="424.10" y="50.60" font-size="13" fill="#151515" textLength="16" lengthAdjust="spacingAndGlyphs">(b)</text>
<clipPath id="clipc"><rect x="54.5" y="228.5" width="277.0" height="136.0"/></clipPath>
<g clip-path="url(#clipc)">
<rect x="54.5" y="228.5" width="277.0" height="136.0" fill="#7E2F8E"/>
<polygon points="54.50,364.50 54.50,262.64 79.68,259.10 104.86,258.15 130.05,257.06 155.23,260.46 180.41,261.55 205.59,262.77 230.77,264.27 255.95,266.17 281.14,263.86 306.32,263.86 331.50,263.86 331.50,364.50" fill="#EDB120"/>
<polygon points="54.50,364.50 54.50,293.10 79.68,293.10 104.86,295.55 130.05,297.86 155.23,296.77 180.41,296.36 205.59,297.18 230.77,298.13 255.95,298.13 281.14,296.64 306.32,296.23 331.50,295.14 331.50,364.50" fill="#D95319"/>
<polygon points="54.50,364.50 54.50,328.19 79.68,325.06 104.86,329.14 130.05,325.47 155.23,329.14 180.41,329.82 205.59,330.23 230.77,330.64 255.95,330.64 281.14,330.64 306.32,331.18 331.50,331.18 331.50,364.50" fill="#0072BD"/>
<polyline points="54.50,262.64 79.68,259.10 104.86,258.15 130.05,257.06 155.23,260.46 180.41,261.55 205.59,262.77 230.77,264.27 255.95,266.17 281.14,263.86 306.32,263.86 331.50,263.86" fill="none" stroke="#000" stroke-opacity="0.75" stroke-width="0.7" stroke-linejoin="round"/>
<polyline points="54.50,293.10 79.68,293.10 104.86,295.55 130.05,297.86 155.23,296.77 180.41,296.36 205.59,297.18 230.77,298.13 255.95,298.13 281.14,296.64 306.32,296.23 331.50,295.14" fill="none" stroke="#000" stroke-opacity="0.75" stroke-width="0.7" stroke-linejoin="round"/>
<polyline points="54.50,328.19 79.68,325.06 104.86,329.14 130.05,325.47 155.23,329.14 180.41,329.82 205.59,330.23 230.77,330.64 255.95,330.64 281.14,330.64 306.32,331.18 331.50,331.18" fill="none" stroke="#000" stroke-opacity="0.75" stroke-width="0.7" stroke-linejoin="round"/>
</g>
<rect x="54.7" y="228.2" width="277.00" height="136.40" fill="none" stroke="#262626" stroke-width="1.4"/>
<text x="58.20" y="242.10" font-size="12.5" fill="#151515" textLength="15" lengthAdjust="spacingAndGlyphs">(c)</text>
<clipPath id="clipd"><rect x="419.5" y="228.5" width="277.0" height="136.0"/></clipPath>
<g clip-path="url(#clipd)">
<rect x="419.5" y="228.5" width="277.0" height="136.0" fill="#7E2F8E"/>
<polygon points="419.50,364.50 419.50,258.69 511.83,258.56 604.17,264.27 696.50,261.55 696.50,364.50" fill="#EDB120"/>
<polygon points="419.50,364.50 419.50,294.46 511.83,295.68 604.17,297.18 696.50,293.10 696.50,364.50" fill="#D95319"/>
<polygon points="419.50,364.50 419.50,325.47 511.83,326.83 604.17,330.23 696.50,329.55 696.50,364.50" fill="#0072BD"/>
<polyline points="419.50,258.69 511.83,258.56 604.17,264.27 696.50,261.55" fill="none" stroke="#000" stroke-opacity="0.75" stroke-width="0.7" stroke-linejoin="round"/>
<polyline points="419.50,294.46 511.83,295.68 604.17,297.18 696.50,293.10" fill="none" stroke="#000" stroke-opacity="0.75" stroke-width="0.7" stroke-linejoin="round"/>
<polyline points="419.50,325.47 511.83,326.83 604.17,330.23 696.50,329.55" fill="none" stroke="#000" stroke-opacity="0.75" stroke-width="0.7" stroke-linejoin="round"/>
</g>
<rect x="419.7" y="228.1" width="277.10" height="136.40" fill="none" stroke="#262626" stroke-width="1.4"/>
<text x="424.50" y="243.40" font-size="13" fill="#151515" textLength="16" lengthAdjust="spacingAndGlyphs">(d)</text>
<text x="49.2" y="176.90" text-anchor="end" font-size="12">0</text>
<text x="49.2" y="148.90" text-anchor="end" font-size="12">0.2</text>
<text x="49.2" y="121.70" text-anchor="end" font-size="12">0.4</text>
<text x="49.2" y="94.50" text-anchor="end" font-size="12">0.6</text>
<text x="49.2" y="67.30" text-anchor="end" font-size="12">0.8</text>
<text x="49.2" y="40.10" text-anchor="end" font-size="12">1</text>
<text x="415.2" y="176.90" text-anchor="end" font-size="12">0</text>
<text x="415.2" y="148.90" text-anchor="end" font-size="12">0.2</text>
<text x="415.2" y="121.70" text-anchor="end" font-size="12">0.4</text>
<text x="415.2" y="94.50" text-anchor="end" font-size="12">0.6</text>
<text x="415.2" y="67.30" text-anchor="end" font-size="12">0.8</text>
<text x="415.2" y="40.10" text-anchor="end" font-size="12">1</text>
<text x="49.2" y="368.90" text-anchor="end" font-size="12">0</text>
<text x="49.2" y="340.90" text-anchor="end" font-size="12">0.2</text>
<text x="49.2" y="313.70" text-anchor="end" font-size="12">0.4</text>
<text x="49.2" y="286.50" text-anchor="end" font-size="12">0.6</text>
<text x="49.2" y="259.30" text-anchor="end" font-size="12">0.8</text>
<text x="49.2" y="232.10" text-anchor="end" font-size="12">1</text>
<text x="414.2" y="368.90" text-anchor="end" font-size="12">0</text>
<text x="414.2" y="340.90" text-anchor="end" font-size="12">0.2</text>
<text x="414.2" y="313.70" text-anchor="end" font-size="12">0.4</text>
<text x="414.2" y="286.50" text-anchor="end" font-size="12">0.6</text>
<text x="414.2" y="259.30" text-anchor="end" font-size="12">0.8</text>
<text x="414.2" y="232.10" text-anchor="end" font-size="12">1</text>
<text x="54.50" y="190.3" text-anchor="middle" font-size="12">0</text>
<text x="92.45" y="190.3" text-anchor="middle" font-size="12">50</text>
<text x="130.39" y="190.3" text-anchor="middle" font-size="12">100</text>
<text x="168.34" y="190.3" text-anchor="middle" font-size="12">150</text>
<text x="206.28" y="190.3" text-anchor="middle" font-size="12">200</text>
<text x="244.23" y="190.3" text-anchor="middle" font-size="12">250</text>
<text x="282.17" y="190.3" text-anchor="middle" font-size="12">300</text>
<text x="320.12" y="190.3" text-anchor="middle" font-size="12">350</text>
<text x="452.16" y="190.3" text-anchor="middle" font-size="12">5</text>
<text x="491.73" y="190.3" text-anchor="middle" font-size="12">10</text>
<text x="531.30" y="190.3" text-anchor="middle" font-size="12">15</text>
<text x="570.87" y="190.3" text-anchor="middle" font-size="12">20</text>
<text x="610.44" y="190.3" text-anchor="middle" font-size="12">25</text>
<text x="650.01" y="190.3" text-anchor="middle" font-size="12">30</text>
<text x="689.59" y="190.3" text-anchor="middle" font-size="12">35</text>
<text x="79.68" y="382.3" text-anchor="middle" font-size="12">2</text>
<text x="130.05" y="382.3" text-anchor="middle" font-size="12">4</text>
<text x="180.41" y="382.3" text-anchor="middle" font-size="12">6</text>
<text x="230.77" y="382.3" text-anchor="middle" font-size="12">8</text>
<text x="281.14" y="382.3" text-anchor="middle" font-size="12">10</text>
<text x="331.50" y="382.3" text-anchor="middle" font-size="12">12</text>
<text x="419.50" y="382.3" text-anchor="middle" font-size="12">1</text>
<text x="511.83" y="382.3" text-anchor="middle" font-size="12">2</text>
<text x="604.17" y="382.3" text-anchor="middle" font-size="12">3</text>
<text x="696.50" y="382.3" text-anchor="middle" font-size="12">4</text>
<text x="146.4" y="205.9" font-size="13.8" textLength="97.2" lengthAdjust="spacingAndGlyphs">Day of the year</text>
<text x="500.0" y="210.1" font-size="13.8" textLength="116.9" lengthAdjust="spacingAndGlyphs">10-Day of the year</text>
<text x="133.0" y="398.2" font-size="13.8" textLength="117.3" lengthAdjust="spacingAndGlyphs">Month of the Year</text>
<text x="510.1" y="398.5" font-size="13.8" textLength="118.8" lengthAdjust="spacingAndGlyphs">Season of the year</text>
<text transform="translate(21.8,104.5) rotate(-90)" x="0" y="0" text-anchor="middle" font-size="13.8" textLength="52" lengthAdjust="spacingAndGlyphs">Weights</text>
<text transform="translate(386.3,104.5) rotate(-90)" x="0" y="0" text-anchor="middle" font-size="13.8" textLength="52" lengthAdjust="spacingAndGlyphs">Weights</text>
<text transform="translate(21.8,296.5) rotate(-90)" x="0" y="0" text-anchor="middle" font-size="13.8" textLength="52" lengthAdjust="spacingAndGlyphs">Weights</text>
<text transform="translate(387,296.5) rotate(-90)" x="0" y="0" text-anchor="middle" font-size="13.8" textLength="52" lengthAdjust="spacingAndGlyphs">Weights</text>
</svg>
</body></html>
